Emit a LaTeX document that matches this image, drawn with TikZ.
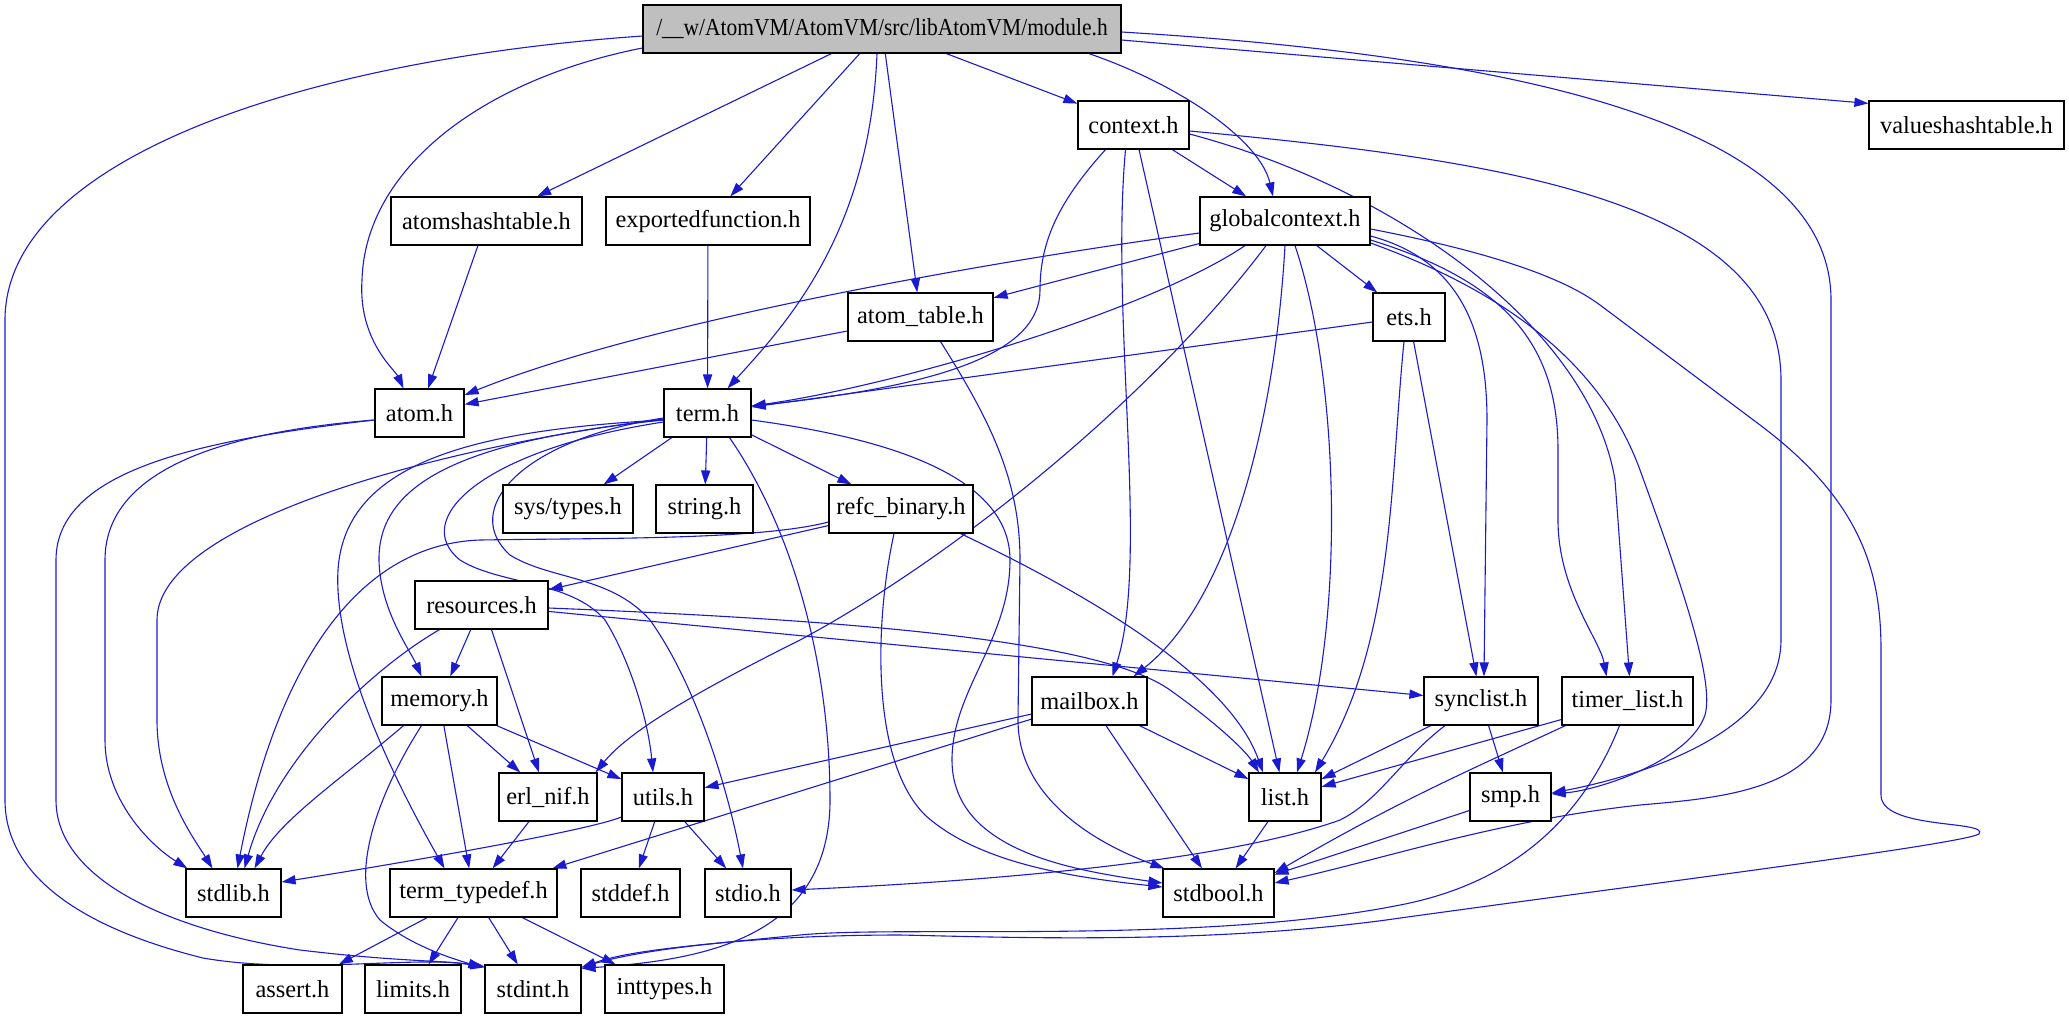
\documentclass[tikz,border=0pt]{standalone}
\usepackage{fontspec}
\setmainfont{Liberation Serif}
\newfontfamily\modfont[FakeStretch=0.88]{Liberation Serif}
\usetikzlibrary{arrows.meta,calc}
\definecolor{edgeblue}{RGB}{26,26,208}
\definecolor{nodegray}{RGB}{191,191,191}
\pgfdeclarelayer{bg}
\pgfdeclarelayer{edges}
\pgfsetlayers{bg,edges,main}
\begin{document}
\begin{tikzpicture}[x=0.5pt,y=-0.5pt,
  box/.style={draw=black,line width=0.6pt,fill=white,minimum height=24pt,inner sep=0pt,font=\fontsize{12.2}{14}\selectfont},
  bw/.style={minimum width=#1*0.5pt},
  edge/.style={draw=edgeblue,line width=0.55pt,-{Triangle[length=7pt,width=4.6pt]}}]
\begin{pgfonlayer}{bg}
\fill[white] (0,0) rectangle (2069,1019);
\end{pgfonlayer}
\useasboundingbox (0,0) rectangle (2069,1019);

\node[box,bw=478,fill=nodegray] (module) at (882,29) {\modfont /\_\_w/AtomVM/AtomVM/src/libAtomVM/module.h};
\node[box,bw=111] (context) at (1133.5,125) {context.h};
\node[box,bw=195] (valueshashtable) at (1966.5,125) {valueshashtable.h};
\node[box,bw=191] (atomshashtable) at (486.5,221) {atomshashtable.h};
\node[box,bw=204] (exportedfunction) at (708,221) {exportedfunction.h};
\node[box,bw=170] (globalcontext) at (1285,221) {globalcontext.h};
\node[box,bw=145] (atomtable) at (920.5,317) {atom\_table.h};
\node[box,bw=72] (ets) at (1409,317) {ets.h};
\node[box,bw=89] (atom) at (419.5,413) {atom.h};
\node[box,bw=87] (term) at (707.5,413) {term.h};
\node[box,bw=130] (systypes) at (568,509) {sys/types.h};
\node[box,bw=97] (string) at (704.5,509) {string.h};
\node[box,bw=144] (refc) at (901,509) {refc\_binary.h};
\node[box,bw=133] (resources) at (481.5,605) {resources.h};
\node[box,bw=115] (memory) at (439.5,701) {memory.h};
\node[box,bw=115] (mailbox) at (1089.5,701) {mailbox.h};
\node[box,bw=114] (synclist) at (1481,701) {synclist.h};
\node[box,bw=131] (timerlist) at (1627.5,701) {timer\_list.h};
\node[box,bw=98] (erlnif) at (548,797) {erl\_nif.h};
\node[box,bw=82] (utils) at (663,797) {utils.h};
\node[box,bw=72] (list) at (1285,797) {list.h};
\node[box,bw=81] (smp) at (1510.5,797) {smp.h};
\node[box,bw=95] (stdlib) at (233.5,893) {stdlib.h};
\node[box,bw=167] (termtypedef) at (473.5,893) {term\_typedef.h};
\node[box,bw=99] (stddef) at (630.5,893) {stddef.h};
\node[box,bw=86] (stdio) at (748,893) {stdio.h};
\node[box,bw=111] (stdbool) at (1218.5,893) {stdbool.h};
\node[box,bw=99] (assert) at (292.5,989) {assert.h};
\node[box,bw=96] (limits) at (413,989) {limits.h};
\node[box,bw=96] (stdint) at (533,989) {stdint.h};
\node[box,bw=119] (inttypes) at (664.5,989) {inttypes.h};

\begin{pgfonlayer}{edges}
% module.h
\draw[edge] ($(module.west)+(0,7)$) .. controls (300,60) and (5,160) .. (5,320) -- (5,800) .. controls (5,880) and (90,930) .. (203,958) .. controls (300,975) and (420,955) .. ($(stdint.north west)+(0,3)$);
\draw[edge] ($(module.west)+(0,19)$) .. controls (480,80) and (365,170) .. (362,280) .. controls (358,340) and (395,370) .. ($(atom.north)+(-16,0)$);
\draw[edge] (module) -- (atomshashtable);
\draw[edge] (module) -- (exportedfunction);
\draw[edge] ($(module.south)+(-5,0)$) .. controls (870,230) and (790,320) .. ($(term.north)+(20,0)$);
\draw[edge] (module) -- (atomtable);
\draw[edge] (module) -- (context);
\draw[edge] ($(module.south)+(207,0)$) .. controls (1180,85) and (1260,140) .. ($(globalcontext.north)+(-12,0)$);
\draw[edge] ($(module.east)+(0,3)$) .. controls (1500,55) and (1831,120) .. (1831,300) -- (1831,700) .. controls (1831,790) and (1720,798) .. (1640,805) .. controls (1500,820) and (1380,860) .. ($(stdbool.east)+(0,-10)$);
\draw[edge] ($(module.east)+(0,11)$) -- ($(valueshashtable.north west)+(0,3)$);
% context.h
\draw[edge] (context) -- (globalcontext);
\draw[edge] ($(context.south)+(-28,0)$) .. controls (1060,200) and (1040,240) .. (1040,290) .. controls (1040,350) and (950,385) .. ($(term.east)+(0,-7)$);
\draw[edge] ($(context.south)+(-8,0)$) .. controls (1110,320) and (1150,560) .. ($(mailbox.north)+(23,0)$);
\draw[edge] (context) -- (list);
\draw[edge] ($(context.east)+(0,9)$) .. controls (1400,190) and (1590,330) .. (1615,480) -- ($(timerlist.north)+(2,0)$);
\draw[edge] ($(context.east)+(0,6)$) .. controls (1500,160) and (1781,200) .. (1781,380) -- (1781,640) .. controls (1781,740) and (1620,780) .. ($(smp.east)+(0,-4)$);
% globalcontext.h
\draw[edge] ($(globalcontext.west)+(0,12)$) .. controls (1000,260) and (650,320) .. ($(atom.east)+(0,-18)$);
\draw[edge] (globalcontext) -- (atomtable);
\draw[edge] ($(globalcontext.south)+(-40,0)$) .. controls (1150,310) and (900,385) .. ($(term.east)+(0,-7)$);
\draw[edge] ($(globalcontext.south)+(-19,0)$) .. controls (1150,400) and (950,560) .. (800,640) .. controls (700,690) and (630,730) .. ($(erlnif.north east)+(-2,0)$);
\draw[edge] (globalcontext.south) .. controls (1275,420) and (1230,600) .. ($(mailbox.north east)+(-14,0)$);
\draw[edge] ($(globalcontext.south)+(10,0)$) .. controls (1340,380) and (1345,620) .. ($(list.north)+(12,0)$);
\draw[edge] (globalcontext) -- (ets);
\draw[edge] ($(globalcontext.east)+(0,15)$) .. controls (1460,260) and (1487,330) .. (1487,420) -- ($(synclist.north)+(3,0)$);
\draw[edge] ($(globalcontext.east)+(0,19)$) .. controls (1500,280) and (1558,340) .. (1558,450) -- (1558,520) .. controls (1558,590) and (1600,640) .. ($(timerlist.north)+(-21,0)$);
\draw[edge] ($(globalcontext.east)+(0,22)$) .. controls (1500,290) and (1600,360) .. (1640,470) .. controls (1680,580) and (1715,680) .. (1705,715) .. controls (1690,760) and (1600,790) .. ($(smp.east)+(0,-3)$);
\draw[edge] ($(globalcontext.east)+(0,8)$) .. controls (1480,250) and (1560,275) .. (1600,305) -- (1760,425) .. controls (1860,500) and (1881,570) .. (1881,650) -- (1881,795) .. controls (1881,830) and (1990,820) .. (1979,834) .. controls (1960,845) and (1600,890) .. (1386,920) .. controls (1200,945) and (1000,937) .. (900,935) .. controls (750,935) and (640,950) .. ($(stdint.north east)+(0,3)$);
% atom_table.h, ets.h, atomshashtable.h, exportedfunction.h
\draw[edge] (atomtable) -- (atom);
\draw[edge] ($(atomtable.south)+(20,0)$) .. controls (990,420) and (1020,480) .. (1020,560) -- (1018,720) .. controls (1018,800) and (1100,845) .. ($(stdbool.north west)+(2,0)$);
\draw[edge] (ets) -- (term);
\draw[edge] ($(ets.south)+(-5,0)$) .. controls (1390,480) and (1395,640) .. ($(list.north)+(30,0)$);
\draw[edge] (ets) -- (synclist);
\draw[edge] (atomshashtable) -- (atom);
\draw[edge] (exportedfunction) -- (term);
% atom.h
\draw[edge] ($(atom.west)+(0,7)$) .. controls (250,430) and (105,460) .. (105,560) -- (105,740) .. controls (105,800) and (150,845) .. ($(stdlib.north west)+(2,0)$);
\draw[edge] ($(atom.west)+(0,7)$) .. controls (200,440) and (56,470) .. (56,560) -- (56,800) .. controls (56,880) and (170,930) .. (300,950) .. controls (400,962) and (440,960) .. ($(stdint.north west)+(0,2)$);
% term.h
\draw[edge] ($(term.west)+(0,6)$) .. controls (450,445) and (157,520) .. (157,620) -- (157,720) .. controls (157,790) and (195,840) .. ($(stdlib.north)+(-21,0)$);
\draw[edge] ($(term.west)+(0,7)$) .. controls (480,430) and (345,460) .. (338,570) .. controls (333,660) and (400,790) .. ($(termtypedef.north)+(-29,0)$);
\draw[edge] ($(term.west)+(0,7)$) .. controls (470,440) and (378,480) .. (379,560) .. controls (380,610) and (410,650) .. ($(memory.north)+(-18,0)$);
\draw[edge] ($(term.west)+(0,9)$) .. controls (480,450) and (410,520) .. (460,560) .. controls (500,585) and (570,580) .. (605,620) .. controls (630,660) and (648,720) .. ($(utils.north)+(-10,0)$);
\draw[edge] ($(term.west)+(0,5)$) .. controls (520,440) and (460,510) .. (510,555) .. controls (550,580) and (610,575) .. (650,620) .. controls (700,690) and (730,800) .. ($(stdio.north)+(-5,0)$);
\draw[edge] (term) -- (systypes);
\draw[edge] (term) -- (string);
\draw[edge] (term) -- (refc);
\draw[edge] ($(term.south)+(22,0)$) .. controls (800,540) and (830,680) .. (830,800) .. controls (830,940) and (700,960) .. ($(stdint.north east)+(0,4)$);
\draw[edge] ($(term.east)+(0,7)$) .. controls (900,440) and (1010,480) .. (1010,560) .. controls (1010,640) and (952,690) .. (952,760) .. controls (952,850) and (1070,870) .. ($(stdbool.west)+(0,-10)$);
% refc_binary.h
\draw[edge] (refc) -- (resources);
\draw[edge] ($(refc.west)+(0,13)$) .. controls (760,540) and (600,538) .. (480,540) .. controls (340,545) and (270,700) .. ($(stdlib.north)+(4,0)$);
\draw[edge] ($(refc.south east)+(-13,0)$) .. controls (1100,600) and (1230,680) .. ($(list.north)+(-22,0)$);
\draw[edge] ($(refc.south)+(-7,0)$) .. controls (875,620) and (870,760) .. (925,815) .. controls (980,865) and (1080,878) .. ($(stdbool.west)+(0,-6)$);
% resources.h
\draw[edge] (resources) -- (memory);
\draw[edge] ($(resources.south)+(10,0)$) -- ($(erlnif.north)+(-9,0)$);
\draw[edge] ($(resources.south)+(-42,0)$) .. controls (370,670) and (275,760) .. ($(stdlib.north)+(11,0)$);
\draw[edge] ($(resources.east)+(0,3)$) .. controls (850,620) and (1100,640) .. (1170,690) .. controls (1215,722) and (1245,750) .. ($(list.north)+(-26,0)$);
\draw[edge] (resources) -- (synclist);
% memory.h
\draw[edge] (memory) -- (erlnif);
\draw[edge] (memory) -- (utils);
\draw[edge] ($(memory.south)+(-36,0)$) .. controls (340,780) and (280,820) .. ($(stdlib.north)+(21,0)$);
\draw[edge] (memory) -- (termtypedef);
\draw[edge] ($(memory.south)+(-18,0)$) .. controls (380,790) and (345,880) .. (380,920) .. controls (410,945) and (450,958) .. ($(stdint.north west)+(-2,3)$);
% erl_nif.h, utils.h
\draw[edge] (erlnif) -- (termtypedef);
\draw[edge] ($(utils.west)+(0,20)$) .. controls (590,830) and (420,860) .. ($(stdlib.east)+(0,-11)$);
\draw[edge] (utils) -- (stddef);
\draw[edge] (utils) -- (stdio);
% mailbox.h
\draw[edge] (mailbox) -- (utils);
\draw[edge] (mailbox) -- (termtypedef);
\draw[edge] (mailbox) -- (list);
\draw[edge] (mailbox) -- (stdbool);
% synclist.h
\draw[edge] (synclist) -- (list);
\draw[edge] (synclist) -- (smp);
\draw[edge] ($(synclist.south)+(-36,0)$) .. controls (1400,760) and (1380,800) .. (1340,820) .. controls (1200,870) and (900,885) .. ($(stdio.east)+(0,-3)$);
% timer_list.h
\draw[edge] (timerlist) -- (list);
\draw[edge] ($(timerlist.south west)+(4,0)$) .. controls (1470,770) and (1400,800) .. ($(stdbool.east)+(0,-20)$);
\draw[edge] ($(timerlist.south)+(-8,0)$) .. controls (1590,800) and (1530,880) .. (1400,905) .. controls (1200,945) and (900,925) .. (800,935) .. controls (700,945) and (630,950) .. ($(stdint.north east)+(0,3)$);
% smp.h, list.h
\draw[edge] (smp) -- (stdbool);
\draw[edge] (list) -- (stdbool);
% term_typedef.h
\draw[edge] (termtypedef) -- (assert);
\draw[edge] (termtypedef) -- (limits);
\draw[edge] (termtypedef) -- (stdint);
\draw[edge] (termtypedef) -- (inttypes);
\end{pgfonlayer}
\end{tikzpicture}
\end{document}
